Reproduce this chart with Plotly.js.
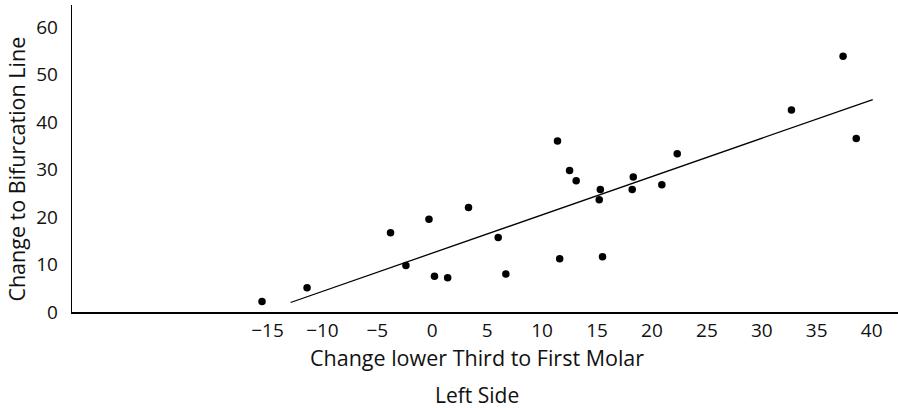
<!DOCTYPE html>
<html>
<head>
<meta charset="utf-8">
<script src="https://cdn.plot.ly/plotly-3.0.1.min.js"></script>
<style>html,body{margin:0;padding:0;background:#fff;}#chart{width:898px;height:408px;}</style>
</head>
<body>
<div id="chart"></div>
<script>
// Data
const pointX = [-15.5, -11.4, -3.8, -2.4, -0.3, 0.2, 1.4, 3.3, 6.0, 6.7, 11.4, 11.6, 12.5, 13.1, 15.3, 15.2, 15.5, 18.3, 18.2, 20.9, 22.3, 32.7, 37.4, 38.6];
const pointY = [2.2, 5.1, 16.7, 9.8, 19.5, 7.5, 7.2, 22.0, 15.7, 8.0, 36.0, 11.2, 29.8, 27.6, 25.8, 23.6, 11.6, 28.4, 25.8, 26.8, 33.3, 42.5, 53.8, 36.5];
const lineX = [-12.9, 40.1];
const lineY = [2.0, 44.7];
const xTickVals = [-15, -10, -5, 0, 5, 10, 15, 20, 25, 30, 35, 40];
const yTickVals = [0, 10, 20, 30, 40, 50, 60];
const xTitle = "Change lower Third to First Molar";
const subTitle = "Left Side";
const yTitle = "Change to Bifurcation Line";

const font = "Open Sans, sans-serif";

const traces = [
  {x: lineX, y: lineY, mode: "lines", type: "scatter", line: {color: "#000", width: 1.3}, hoverinfo: "skip"},
  {x: pointX, y: pointY, mode: "markers", type: "scatter", marker: {color: "#000", size: 7.5}}
];

const layout = {
  width: 898, height: 408,
  margin: {l: 72, r: 0, t: 5, b: 96},
  paper_bgcolor: "#fff", plot_bgcolor: "#fff",
  showlegend: false,
  font: {family: font, color: "#000"},
  xaxis: {
    range: [-32.8, 42.4], tickvals: xTickVals, showgrid: false, zeroline: false,
    showline: true, linecolor: "#000", linewidth: 1.5, ticks: "",
    tickfont: {family: font, size: 19, color: "#111"}, ticklabelstandoff: 1
  },
  yaxis: {
    range: [0, 64.6], tickvals: yTickVals, showgrid: false, zeroline: false,
    showline: true, linecolor: "#000", linewidth: 1.3, ticks: "",
    tickfont: {family: font, size: 19, color: "#111"}, ticklabelstandoff: 9
  },
  annotations: [
    {text: xTitle, xref: "paper", yref: "paper", x: 0.4903, y: -0.1466, xanchor: "center", yanchor: "middle", showarrow: false, font: {family: font, size: 21.5, color: "#111"}},
    {text: subTitle, xref: "paper", yref: "paper", x: 0.4903, y: -0.270, xanchor: "center", yanchor: "middle", showarrow: false, font: {family: font, size: 21, color: "#111"}},
    {text: yTitle, xref: "paper", yref: "paper", x: -0.0666, y: 0.467, xanchor: "center", yanchor: "middle", textangle: -90, showarrow: false, font: {family: font, size: 21.5, color: "#111"}}
  ]
};

Plotly.newPlot("chart", traces, layout, {staticPlot: true, displayModeBar: false});
</script>
</body>
</html>
